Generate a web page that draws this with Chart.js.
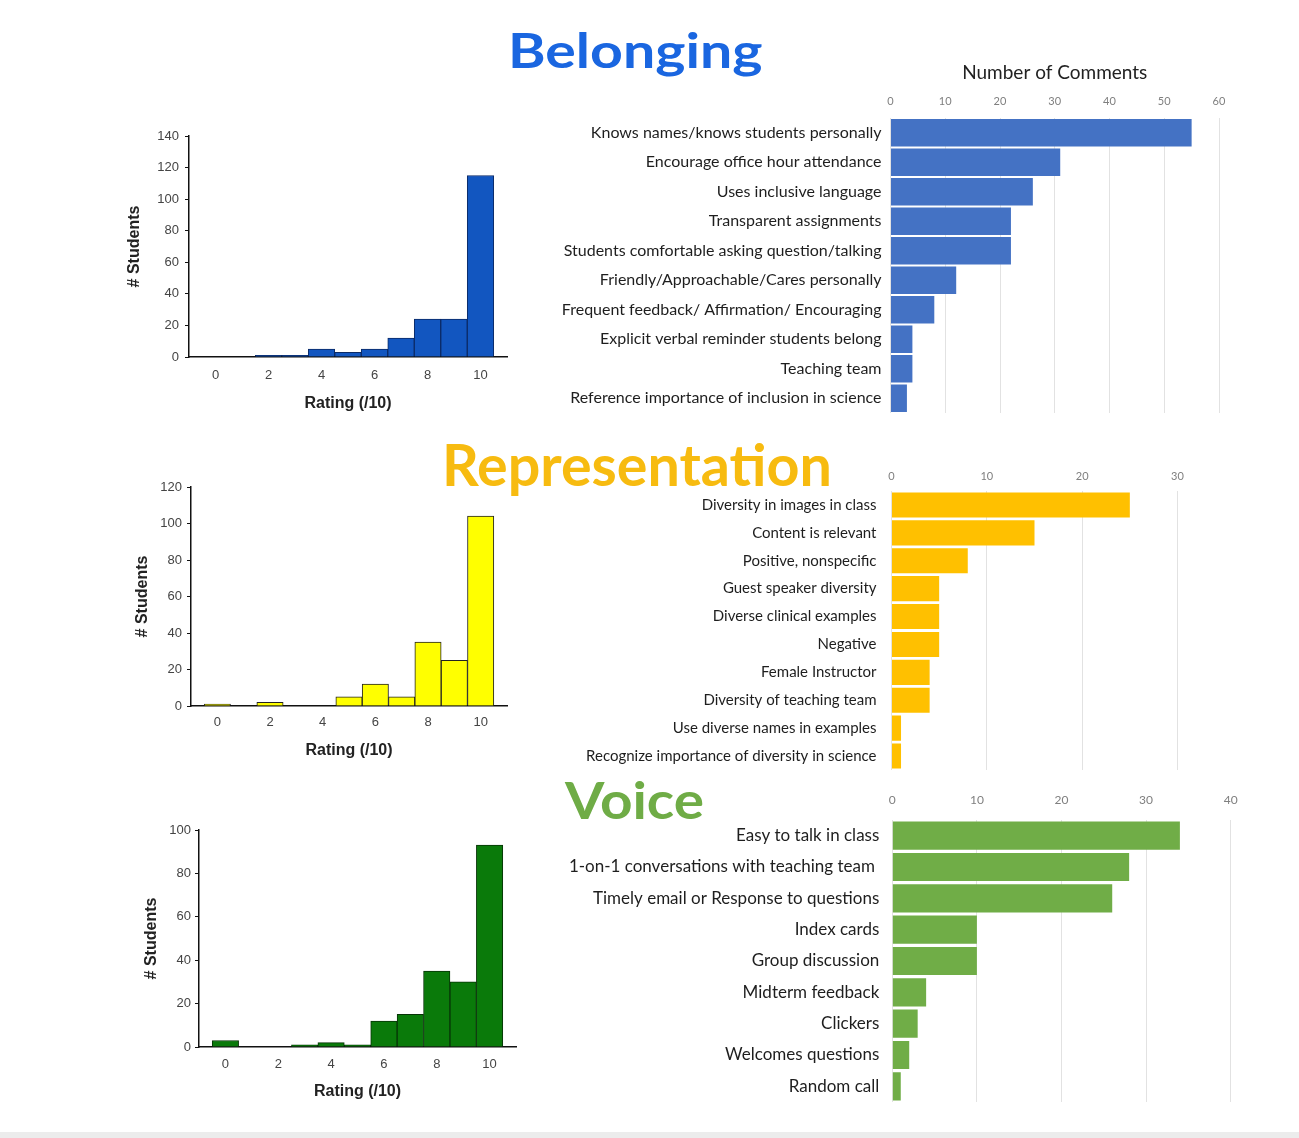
<!DOCTYPE html>
<html lang="en">
<head>
<meta charset="UTF-8">
<title>Belonging, Representation, Voice</title>
<style>
  body { margin: 0; background: #fff; width: 1299px; height: 1138px; position: relative; overflow: hidden; }
  canvas { position: absolute; }
  .title { position: absolute; font-family: Lato, sans-serif; font-weight: 700; line-height: 1; white-space: nowrap; transform-origin: 0 0; }
  .footer { position: absolute; left: 0; top: 1132px; width: 1299px; height: 6px; background: #ececec; }
</style>
</head>
<body>
<div class="title" id="tBelong" style="left:508px; top:26px; font-size:48px; color:#1a66e0;">Belonging</div>
<div class="title" id="tRepr" style="left:442px; top:436px; font-size:57px; color:#f7bb10;">Representation</div>
<div class="title" id="tVoice" style="left:565px; top:774px; font-size:51px; color:#6fac46;">Voice</div>

<canvas id="histBelong" width="420" height="300" style="left:100px; top:120px;"></canvas>
<canvas id="histRepr" width="420" height="300" style="left:100px; top:470px;"></canvas>
<canvas id="histVoice" width="430" height="310" style="left:100px; top:810px;"></canvas>

<canvas id="barBelong" width="700" height="365" style="left:540px; top:55px;"></canvas>
<canvas id="barRepr" width="700" height="320" style="left:540px; top:455px;"></canvas>
<canvas id="barVoice" width="710" height="330" style="left:540px; top:780px;"></canvas>

<div class="footer"></div>

<script src="https://cdn.jsdelivr.net/npm/chart.js"></script>
<script>
// rating histograms
const ratings = [0, 1, 2, 3, 4, 5, 6, 7, 8, 9, 10];
const ratingTicks = [0, 2, 4, 6, 8, 10];
const belongCounts = [0, 0, 1, 1, 5, 3, 5, 12, 24, 24, 115];
const reprCounts = [1, 0, 2, 0, 0, 5, 12, 5, 35, 25, 104];
const voiceCounts = [3, 0, 0, 1, 2, 1, 12, 15, 35, 30, 93];

// comment counts
const belongLabels = [
    'Knows names/knows students personally',
    'Encourage office hour attendance',
    'Uses inclusive language',
    'Transparent assignments',
    'Students comfortable asking question/talking',
    'Friendly/Approachable/Cares personally',
    'Frequent feedback/ Affirmation/ Encouraging',
    'Explicit verbal reminder students belong',
    'Teaching team',
    'Reference importance of inclusion in science'
];
const belongComments = [55, 31, 26, 22, 22, 12, 8, 4, 4, 3];

const reprLabels = [
    'Diversity in images in class',
    'Content is relevant',
    'Positive, nonspecific',
    'Guest speaker diversity',
    'Diverse clinical examples',
    'Negative',
    'Female Instructor',
    'Diversity of teaching team',
    'Use diverse names in examples',
    'Recognize importance of diversity in science'
];
const reprComments = [25, 15, 8, 5, 5, 5, 4, 4, 1, 1];

const voiceLabels = [
    'Easy to talk in class',
    '1-on-1 conversations with teaching team ',
    'Timely email or Response to questions',
    'Index cards',
    'Group discussion',
    'Midterm feedback',
    'Clickers',
    'Welcomes questions',
    'Random call'
];
const voiceComments = [34, 28, 26, 10, 10, 4, 3, 2, 1];

const AXIS_FONT = 'Arial, "Liberation Sans", sans-serif';
const LABEL_FONT = 'Lato, "Open Sans", sans-serif';

function histogram(id, counts, yMax, yStep, fill, edge, box) {
    return new Chart(document.getElementById(id), {
        type: 'bar',
        data: {
            datasets: [{
                data: ratings.map((r, i) => ({ x: r, y: counts[i] })),
                backgroundColor: fill,
                borderColor: edge,
                borderWidth: 1,
                borderSkipped: 'bottom',
                barPercentage: 1,
                categoryPercentage: 1
            }]
        },
        options: {
            responsive: false,
            animation: false,
            layout: { padding: { top: box.padTop, right: box.padRight, left: 0, bottom: 0 } },
            plugins: { legend: { display: false }, tooltip: { enabled: false } },
            scales: {
                x: {
                    type: 'linear', min: -1, max: 11, offset: false,
                    afterBuildTicks: s => { s.ticks = ratingTicks.map(v => ({ value: v })); },
                    afterFit: s => { s.height = box.xH; },
                    grid: { display: false, drawTicks: false, offset: false },
                    border: { color: '#111', width: 1.5 },
                    ticks: { padding: box.xTickPad, font: { family: AXIS_FONT, size: 13 }, color: '#444' },
                    title: {
                        display: true, text: 'Rating (/10)', color: '#222',
                        font: { family: AXIS_FONT, size: 16, weight: 'bold' },
                        padding: { top: 0, bottom: box.xTitlePad }
                    }
                },
                y: {
                    min: 0, max: yMax,
                    afterFit: s => { s.width = box.yW; },
                    grid: { drawOnChartArea: false, drawTicks: true, tickLength: 4, color: '#111' },
                    border: { color: '#111', width: 1.5 },
                    ticks: { stepSize: yStep, padding: box.yTickPad, font: { family: AXIS_FONT, size: 13 }, color: '#444' },
                    title: {
                        display: true, text: '# Students', color: '#222',
                        font: { family: AXIS_FONT, size: 16, weight: 'bold' },
                        padding: { top: box.yTitlePad, bottom: 0 }
                    }
                }
            }
        }
    });
}

function commentBars(id, labels, values, xMax, color, box) {
    return new Chart(document.getElementById(id), {
        type: 'bar',
        data: {
            labels: labels,
            datasets: [{
                data: values,
                backgroundColor: color,
                barPercentage: box.barPct,
                categoryPercentage: 1
            }]
        },
        options: {
            indexAxis: 'y',
            responsive: false,
            animation: false,
            layout: { padding: { top: 0, left: 0, right: box.padRight, bottom: box.padBottom } },
            plugins: { legend: { display: false }, tooltip: { enabled: false } },
            scales: {
                x: {
                    position: 'top', min: 0, max: xMax,
                    afterFit: s => { s.height = box.xH; },
                    grid: { color: '#e2e2e2', drawTicks: false },
                    border: { display: false },
                    ticks: { stepSize: 10, padding: box.xTickPad, font: { family: LABEL_FONT, size: box.tickSize }, color: '#7f7f7f' },
                    title: {
                        display: !!box.title, text: box.title || '', color: '#222',
                        font: { family: LABEL_FONT, size: 19 },
                        padding: { top: 6, bottom: 0 }
                    }
                },
                y: {
                    // keep the label overflow from pushing the plot area up
                    afterFit: s => { s.width = box.yW; s.paddingTop = 0; s.paddingBottom = 0; },
                    grid: { display: false, drawTicks: false },
                    border: { display: false },
                    ticks: { autoSkip: false, padding: box.yTickPad, font: { family: LABEL_FONT, size: box.labelSize }, color: '#1e1e1e' }
                }
            }
        }
    });
}

histogram('histBelong', belongCounts, 140, 20, '#1256c0', '#0b2a66',
    { padTop: 16, padRight: 13, xH: 63, yW: 89, xTickPad: 10.5, xTitlePad: 7, yTickPad: 6, yTitlePad: 25 });
histogram('histRepr', reprCounts, 120, 20, '#ffff00', '#222222',
    { padTop: 17, padRight: 13, xH: 64, yW: 91, xTickPad: 8.5, xTitlePad: 10, yTickPad: 5, yTitlePad: 33 });
histogram('histVoice', voiceCounts, 100, 20, '#0a7a0a', '#073407',
    { padTop: 20, padRight: 14, xH: 73, yW: 99, xTickPad: 9.5, xTitlePad: 19, yTickPad: 4, yTitlePad: 42 });

commentBars('barBelong', belongLabels, belongComments, 60, '#4472c4',
    { padRight: 21, padBottom: 7, xH: 63, yW: 350.5, xTickPad: 10.4, tickSize: 11, labelSize: 16, yTickPad: 9, barPct: 0.925, title: 'Number of Comments' });
commentBars('barRepr', reprLabels, reprComments, 30, '#ffc000',
    { padRight: 62.5, padBottom: 5, xH: 36, yW: 351.5, xTickPad: 8.4, tickSize: 11, labelSize: 15, yTickPad: 15, barPct: 0.9 });
commentBars('barVoice', voiceLabels, voiceComments, 40, '#70ad47',
    { padRight: 17.7, padBottom: 8, xH: 40, yW: 352.3, xTickPad: 12.4, tickSize: 12, labelSize: 17, yTickPad: 13, barPct: 0.9 });

// stretch the section titles to the widths seen in the original slide
[['tBelong', 254], ['tRepr', 390], ['tVoice', 139]].forEach(([id, w]) => {
    const el = document.getElementById(id);
    el.style.transform = 'scaleX(' + (w / el.offsetWidth) + ')';
});
</script>
</body>
</html>
